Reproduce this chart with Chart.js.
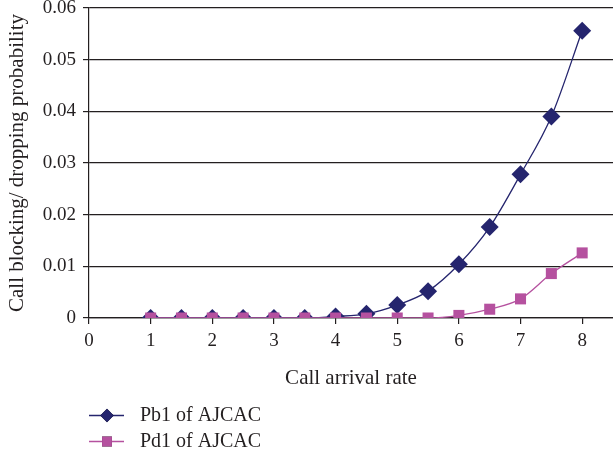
<!DOCTYPE html>
<html>
<head>
<meta charset="utf-8">
<script src="https://cdn.jsdelivr.net/npm/chart.js@4/dist/chart.umd.min.js"></script>
<style>
  html, body { margin: 0; padding: 0; background: #ffffff; }
  #wrap { width: 613px; height: 454px; }
</style>
</head>
<body>
<div id="wrap"><canvas id="chart" width="613" height="454"></canvas></div>
<script>
// Call arrival rate (x) and the two probability series
const arrivalRates = [1, 1.5, 2, 2.5, 3, 3.5, 4, 4.5, 5, 5.5, 6, 6.5, 7, 7.5, 8];
const pb1Values = [0, 0, 0, 0, 0, 0, 0.0003, 0.0008, 0.0025, 0.0052, 0.0104, 0.0176, 0.0278, 0.0390, 0.0556];
const pd1Values = [0, 0, 0, 0, 0, 0, 0, 0, 0, 0, 0.0005, 0.0017, 0.0037, 0.0086, 0.0126];
const seriesNames = ['Pb1 of AJCAC', 'Pd1 of AJCAC'];
const xTitle = 'Call arrival rate';
const yTitle = 'Call blocking/ dropping probability';

const FONT = '"Liberation Serif", "DejaVu Serif", serif';
const INK = '#231f20';
const NAVY = '#25256e';
const MAGENTA = '#b5519f';

const toPoints = (vals) => vals.map((v, i) => ({ x: arrivalRates[i], y: v }));

// Legend below the axis title: a short line with the series marker on it
const legendMarkerRadius = [6.7, 7];
const lineLegend = {
  id: 'lineLegend',
  afterDraw(chart) {
    const ctx = chart.ctx;
    const rows = [415.5, 441.5];
    chart.data.datasets.forEach((ds, i) => {
      const y = rows[i];
      ctx.save();
      ctx.strokeStyle = ds.borderColor;
      ctx.lineWidth = ds.borderWidth;
      ctx.beginPath();
      ctx.moveTo(89, y);
      ctx.lineTo(124, y);
      ctx.stroke();
      Chart.helpers.drawPoint(ctx, {
        pointStyle: ds.pointStyle,
        radius: legendMarkerRadius[i],
        borderWidth: 0
      }, 107, y);
      ctx.fillStyle = ds.pointBackgroundColor;
      ctx.fill();
      ctx.fillStyle = INK;
      ctx.font = '20px ' + FONT;
      ctx.textBaseline = 'middle';
      ctx.textAlign = 'left';
      ctx.fillText(ds.label, 140, y);
      ctx.restore();
    });
  }
};

new Chart(document.getElementById('chart'), {
  type: 'line',
  data: {
    datasets: [
      {
        label: seriesNames[0],
        data: toPoints(pb1Values),
        borderColor: NAVY,
        backgroundColor: NAVY,
        pointBackgroundColor: NAVY,
        pointBorderColor: NAVY,
        borderWidth: 1.3,
        pointStyle: 'rectRot',
        pointRadius: 9,
        pointBorderWidth: 0,
        cubicInterpolationMode: 'monotone',
        order: 1
      },
      {
        label: seriesNames[1],
        data: toPoints(pd1Values),
        borderColor: MAGENTA,
        backgroundColor: MAGENTA,
        pointBackgroundColor: MAGENTA,
        pointBorderColor: MAGENTA,
        borderWidth: 1.3,
        pointStyle: 'rect',
        pointRadius: 7.8,
        pointBorderWidth: 0,
        cubicInterpolationMode: 'monotone',
        order: 0
      }
    ]
  },
  options: {
    responsive: false,
    animation: false,
    events: [],
    layout: { autoPadding: false, padding: { top: 8, right: 0, bottom: 61, left: 0 } },
    plugins: {
      legend: { display: false },
      tooltip: { enabled: false }
    },
    scales: {
      x: {
        type: 'linear',
        min: 0,
        max: 8.5,
        border: { display: true, color: INK, width: 1.2 },
        grid: { drawOnChartArea: false, drawTicks: true, tickLength: 6, color: INK, lineWidth: 1.2 },
        ticks: {
          stepSize: 1,
          includeBounds: false,
          padding: 6,
          maxRotation: 0,
          color: INK,
          font: { family: FONT, size: 19 }
        },
        title: {
          display: true,
          text: xTitle,
          color: INK,
          font: { family: FONT, size: 21 },
          padding: { top: 14, bottom: 2 }
        },
        afterFit(scale) { scale.height = 75; scale.paddingLeft = 0; scale.paddingRight = 0; }
      },
      y: {
        min: 0,
        max: 0.06,
        border: { display: true, color: INK, width: 1.2 },
        grid: { drawOnChartArea: true, drawTicks: true, tickLength: 6, color: INK, lineWidth: 1.2 },
        ticks: {
          stepSize: 0.01,
          padding: 7,
          color: INK,
          font: { family: FONT, size: 19 },
          callback: (v) => (Math.abs(v) < 1e-9 ? '0' : v.toFixed(2))
        },
        title: {
          display: true,
          text: yTitle,
          color: INK,
          font: { family: FONT, size: 21 },
          padding: { top: 5, bottom: 0 }
        },
        afterFit(scale) { scale.width = 89; scale.paddingTop = 0; scale.paddingBottom = 0; }
      }
    }
  },
  plugins: [lineLegend]
});
</script>
</body>
</html>
